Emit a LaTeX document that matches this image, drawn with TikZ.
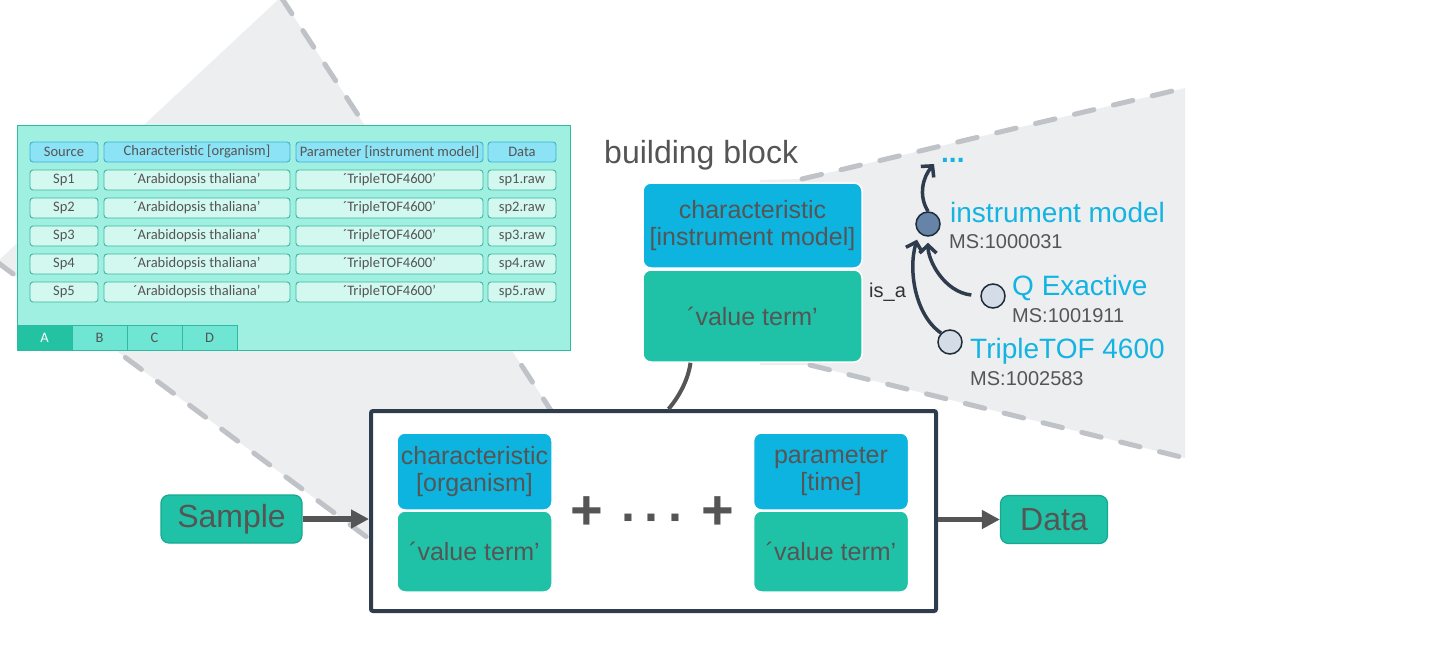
\documentclass[tikz,border=0pt]{standalone}
\usepackage{fontspec}
\setmainfont{Liberation Sans}
\newfontfamily\tabfont{Carlito}
\usetikzlibrary{arrows.meta,calc}
\definecolor{cyanc}{HTML}{0DB4DF}
\definecolor{greenc}{HTML}{1FC2A6}
\definecolor{greend}{HTML}{17A88F}
\definecolor{txt}{HTML}{555555}
\definecolor{navy}{HTML}{2F3C4D}
\definecolor{navyb}{HTML}{1F2B39}
\definecolor{conegray}{HTML}{EDEEF0}
\definecolor{dashgray}{HTML}{BFC3C8}
\definecolor{tabfill}{HTML}{A0F0E1}
\definecolor{tabborder}{HTML}{2FB9A2}
\definecolor{hdrfill}{HTML}{8CE3F6}
\definecolor{hdrborder}{HTML}{3FAFD0}
\definecolor{cellfill}{HTML}{D2F8F0}
\definecolor{cellborder}{HTML}{3DB7A0}
\definecolor{tabA}{HTML}{22C2A3}
\definecolor{tabB}{HTML}{6EE6D3}
\definecolor{ontc}{HTML}{14B4E2}
\definecolor{circdark}{HTML}{6584A8}
\definecolor{circlight}{HTML}{D4DDE7}
\tikzset{
  dashline/.style={draw=dashgray, line width=5pt, dash pattern=on 20pt off 20pt, line cap=round},
  tabouter/.style={draw=tabborder, fill=tabfill, line width=1pt, minimum width=553pt, minimum height=225pt, inner sep=0pt},
  tcell/.style={rounded corners=3pt, line width=0.9pt, minimum height=20pt, inner sep=0pt, font=\tabfont\fontsize{14.5}{16}\selectfont, text=txt},
  hdr/.style={tcell, fill=hdrfill, draw=hdrborder},
  cellb/.style={tcell, fill=cellfill, draw=cellborder},
  tabcell/.style={draw=tabborder, line width=0.8pt, minimum width=55pt, minimum height=25pt, inner sep=0pt, font=\tabfont\fontsize{14.5}{16}\selectfont, text=txt, fill=tabB},
  blk/.style={rounded corners=8pt, draw=white, line width=1.5pt, inner sep=0pt, text=txt, align=center, font=\fontsize{25}{27}\selectfont},
  cyanblk/.style={blk, fill=cyanc},
  greenblk/.style={blk, fill=greenc},
  mainbox/.style={draw=navy, line width=4pt, fill=white, rounded corners=2pt, inner sep=0pt},
  endbox/.style={fill=greenc, draw=greend, line width=1.2pt, rounded corners=8pt, inner sep=0pt, minimum height=48pt, text=txt, font=\fontsize{32}{34}\selectfont},
  flowarrow/.style={draw=txt, line width=5.5pt, -{Triangle[length=18pt,width=18pt]}},
  linkline/.style={draw=txt, line width=4pt},
  optext/.style={text=txt, inner sep=0pt, font=\bfseries\fontsize{56}{56}\selectfont},
  circ/.style={circle, draw=navyb, line width=1.5pt, minimum size=24pt, inner sep=0pt},
  ontlbl/.style={text=ontc, inner sep=0pt, font=\fontsize{28}{30}\selectfont},
  idlbl/.style={text=txt, inner sep=0pt, font=\fontsize{20}{22}\selectfont},
  isarrow/.style={draw=navy, line width=3.5pt, -{Straight Barb[length=8pt,width=17pt]}},
}
\begin{document}
\begin{tikzpicture}[x=1pt,y=-1pt]
\useasboundingbox (0,0) rectangle (1450,662);

% left cone
\coordinate (lA) at (281,-3);
\coordinate (lL) at (-3,262);
\coordinate (lB) at (368,538);
\coordinate (lI) at (600,560);
\coordinate (lR) at (552,412);
\fill[conegray] (lA) -- (lL) -- (lB) -- (lI) -- (lR) -- cycle;
\draw[dashline] (lA) -- (lR);
\draw[dashline] (lL) -- (lB);

% right cone
\coordinate (rA) at (802,179);
\coordinate (rB) at (1185,88);
\coordinate (rC) at (1185,458);
\coordinate (rD) at (810,365);
\fill[conegray] (rA) -- (rB) -- (rC) -- (rD) -- (760,365) -- (760,180) -- cycle;
\draw[dashline] (rA) -- (rB);
\draw[dashline] (rD) -- (rC);

% table
\node[tabouter] (tbl) at (293.5,237.5) {};
\node[hdr, minimum width=68pt] (hsrc) at (64,152) {Source};
\node[hdr, minimum width=186pt] (horg) at (197,152) {Characteristic [organism]};
\node[hdr, minimum width=187pt] (hins) at (389.5,152) {Parameter [instrument model]};
\node[hdr, minimum width=68pt] (hdat) at (522,152) {Data};
\foreach \i in {1,...,5}{
  \node[cellb, minimum width=68pt] (src\i) at (64,152+28*\i) {Sp\i};
  \node[cellb, minimum width=186pt] (org\i) at (197,152+28*\i) {´Arabidopsis thaliana’};
  \node[cellb, minimum width=187pt] (ins\i) at (389.5,152+28*\i) {´TripleTOF4600’};
  \node[cellb, minimum width=68pt] (dat\i) at (522,152+28*\i) {sp\i.raw};
}
\node[tabcell, fill=tabA, text=white] (tA) at (44.5,337.5) {A};
\node[tabcell] (tB) at (99.5,337.5) {B};
\node[tabcell] (tC) at (154.5,337.5) {C};
\node[tabcell] (tD) at (209.5,337.5) {D};

% building block
\node[text=txt, anchor=west, inner sep=0pt, font=\fontsize{32}{34}\selectfont] (bbt) at (604,155) {building block};
\node[greenblk, minimum width=219pt, minimum height=92pt] (bbv) at (752.5,316) {´value term’};
\node[cyanblk, minimum width=219pt, minimum height=85pt] (bbh) at (752.5,225.5) {characteristic\\{}[instrument model]};

% ontology
\node[circ, fill=circdark] (im) at (928,224) {};
\node[circ, fill=circlight] (qe) at (993,296) {};
\node[circ, fill=circlight] (tt) at (950,342) {};
\node[ontlbl, anchor=base west, font=\bfseries\fontsize{28}{30}\selectfont] (dots) at (941,162) {...};
\coordinate (up) at (934,164);
\node[ontlbl, anchor=base west] (imlbl) at (950,222) {instrument model};
\node[idlbl, anchor=base west] (imid) at (949,248) {MS:1000031};
\node[ontlbl, anchor=base west] (qelbl) at (1012,295) {Q Exactive};
\node[idlbl, anchor=base west] (qeid) at (1012,322) {MS:1001911};
\node[ontlbl, anchor=base west] (ttlbl) at (970,358) {TripleTOF 4600};
\node[idlbl, anchor=base west] (ttid) at (970,385) {MS:1002583};
\node[text=black!80, inner sep=0pt, anchor=base west, font=\fontsize{20}{22}\selectfont] (isa) at (869,297) {is\_a};
\draw[isarrow] (im.north) .. controls +(-10,-16) and +(-11,13) .. (up);
\draw[isarrow, shorten <=9pt, shorten >=6pt] (qe.west) .. controls +(-36,-4) and +(0,24) .. (im.south);
\draw[isarrow, shorten >=7pt] (tt.north west) .. controls +(-26,-18) and +(-11,37) .. (im.south west);

% main box
\node[mainbox, minimum width=565pt, minimum height=200pt] (box) at (653.5,511) {};
\draw[linkline] ([xshift=-62pt]bbv.south) .. controls +(-2,15) and +(12,-14) .. ([xshift=15pt]box.north);
\node[cyanblk, minimum width=155pt, minimum height=77pt] (lch) at (474.5,471.5) {characteristic\\{}[organism]};
\node[greenblk, minimum width=155pt, minimum height=81pt] (lgv) at (474.5,551.5) {´value term’};
\node[cyanblk, minimum width=155pt, minimum height=77pt] (rch) at (831,471.5) {parameter\\{}[time]};
\node[greenblk, minimum width=155pt, minimum height=81pt] (rgv) at (831,551.5) {´value term’};
\node[optext] (p1) at (587,513) {+};
\node[optext, font=\bfseries\fontsize{50}{50}\selectfont] (ell) at (653,524) {·\hspace{7pt}·\hspace{7pt}·};
\node[optext] (p2) at (718,513) {+};

% sample / data
\node[endbox, minimum width=141pt] (smp) at (231.5,519) {Sample};
\node[endbox, minimum width=107pt] (dat) at (1054,519.5) {Data};
\draw[flowarrow] (smp.east) -- (smp.east -| box.west);
\draw[flowarrow] (box.east |- dat.west) -- (dat.west);
\end{tikzpicture}
\end{document}
